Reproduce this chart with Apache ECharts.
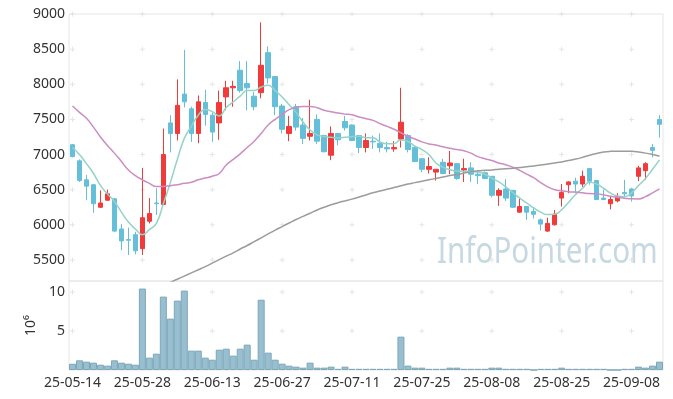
<!DOCTYPE html>
<html>
<head>
<meta charset="utf-8">
<script src="https://cdn.jsdelivr.net/npm/echarts@6/dist/echarts.min.js"></script>
<style>
  html, body { margin: 0; padding: 0; background: #fff; }
  #chart { width: 673px; height: 399px; }
</style>
</head>
<body>
<div id="chart"></div>
<script>
const dates = [
  '25-05-14','25-05-15','25-05-16','25-05-19','25-05-20','25-05-21','25-05-22','25-05-23','25-05-26','25-05-27',
  '25-05-28','25-05-29','25-05-30','25-06-02','25-06-04','25-06-05','25-06-09','25-06-10','25-06-11','25-06-12',
  '25-06-13','25-06-16','25-06-17','25-06-18','25-06-19','25-06-20','25-06-23','25-06-24','25-06-25','25-06-26',
  '25-06-27','25-06-30','25-07-01','25-07-02','25-07-03','25-07-04','25-07-07','25-07-08','25-07-09','25-07-10',
  '25-07-11','25-07-14','25-07-15','25-07-16','25-07-17','25-07-18','25-07-21','25-07-22','25-07-23','25-07-24',
  '25-07-25','25-07-28','25-07-29','25-07-30','25-07-31','25-08-01','25-08-04','25-08-05','25-08-06','25-08-07',
  '25-08-08','25-08-11','25-08-12','25-08-13','25-08-14','25-08-18','25-08-19','25-08-20','25-08-21','25-08-22',
  '25-08-25','25-08-26','25-08-27','25-08-28','25-08-29','25-09-01','25-09-02','25-09-03','25-09-04','25-09-05',
  '25-09-08','25-09-09','25-09-10','25-09-11','25-09-12'
];

const opens = [
  7140, 6910, 6640, 6570, 6250, 6350, 6370, 5940, 5790, 5860,
  5660, 6050, 6310, 6290, 7450, 7300, 7860, 7650, 7300, 7740,
  7560, 7450, 7820, 7950, 8200, 8010, 7830, 7880, 8450, 8110,
  7690, 7300, 7680, 7420, 7260, 7500, 7270, 6990, 7300, 7470,
  7420, 7270, 7100, 7190, 7160, 7100, 7080, 7220, 7270, 7100,
  6940, 6790, 6750, 6890, 6840, 6870, 6780, 6810, 6720, 6740,
  6690, 6420, 6510, 6490, 6180, 6260, 6190, 6070, 5910, 6000,
  6380, 6570, 6620, 6580, 6800, 6630, 6380, 6300, 6340, 6460,
  6510, 6690, 6770, 7100, 7500
];
const closes = [
  6970, 6630, 6550, 6300, 6310, 6440, 5910, 5770, 5780, 5630,
  6100, 6160, 6300, 7000, 7300, 7700, 7750, 7300, 7750, 7570,
  7320, 7740, 7950, 7970, 7910, 7950, 7680, 8270, 8090, 7680,
  7360, 7400, 7390, 7230, 7300, 7190, 7040, 7300, 7210, 7380,
  7200, 7100, 7200, 7180, 7100, 7080, 7100, 7460, 7070, 6900,
  6790, 6830, 6790, 6730, 6880, 6660, 6800, 6720, 6700, 6660,
  6420, 6490, 6380, 6250, 6260, 6180, 6150, 6010, 6020, 6150,
  6460, 6610, 6580, 6690, 6620, 6360, 6360, 6360, 6400, 6440,
  6410, 6810, 6870, 7060, 7430
];
const lows = [
  6960, 6610, 6350, 6170, 6240, 6340, 5900, 5640, 5570, 5580,
  5570, 6020, 6140, 6280, 7030, 7200, 7670, 7180, 7160, 7410,
  7180, 7210, 7630, 7680, 7880, 7630, 7630, 7800, 8010, 7560,
  7300, 7190, 7340, 7150, 7200, 7150, 7030, 6920, 7130, 7340,
  7190, 7020, 7030, 7080, 7030, 7030, 7040, 7100, 7030, 6890,
  6750, 6730, 6630, 6720, 6720, 6640, 6610, 6610, 6580, 6650,
  6390, 6270, 6340, 6240, 6170, 6070, 6090, 5920, 5900, 5990,
  6260, 6450, 6450, 6540, 6570, 6350, 6350, 6220, 6320, 6400,
  6330, 6620, 6640, 6960, 7240
];
const highs = [
  7150, 6930, 6710, 6580, 6490, 6500, 6380, 6010, 5960, 5900,
  6810, 6380, 6520, 7370, 7560, 8070, 8490, 7680, 7840, 7920,
  7600, 7910, 8050, 8050, 8330, 8330, 7890, 8880, 8540, 8110,
  7720, 7550, 7720, 7520, 7780, 7570, 7280, 7400, 7300, 7550,
  7430, 7280, 7300, 7270, 7300, 7180, 7190, 7950, 7290, 7120,
  6950, 6960, 6790, 6940, 7050, 6880, 6940, 6890, 6780, 6760,
  6690, 6520, 6650, 6490, 6370, 6260, 6240, 6090, 6100, 6210,
  6580, 6620, 6670, 6770, 6800, 6640, 6500, 6410, 6450, 6640,
  6520, 6840, 6890, 7150, 7560
];

// moving averages as drawn (short, medium, long)
const ma5 = [
  7100, 7000, 6870, 6730, 6560, 6440, 6330, 6180, 6040, 5940,
  5860, 5930, 6020, 6300, 6600, 6930, 7230, 7400, 7560, 7640,
  7610, 7550, 7670, 7750, 7830, 7910, 7910, 7960, 7986, 7910,
  7820, 7710, 7600, 7460, 7350, 7280, 7255, 7245, 7240, 7245,
  7255, 7260, 7240, 7238, 7180, 7153, 7155, 7205, 7185, 7120,
  7070, 7000, 6880, 6820, 6785, 6765, 6760, 6755, 6750, 6720,
  6665, 6610, 6540, 6460, 6380, 6310, 6240, 6180, 6145, 6150,
  6215, 6320, 6430, 6520, 6605, 6580, 6520, 6450, 6410, 6400,
  6455, 6560, 6660, 6790, 6924
];
const ma20 = [
  7690, 7600, 7515, 7390, 7250, 7130, 7020, 6900, 6780, 6700,
  6640, 6590, 6545, 6545, 6557, 6570, 6590, 6605, 6640, 6665,
  6690, 6730, 6850, 6930, 7010, 7100, 7190, 7300, 7420, 7500,
  7570, 7640, 7675, 7685, 7685, 7667, 7630, 7610, 7590, 7575,
  7565, 7535, 7510, 7486, 7440, 7400, 7360, 7310, 7260, 7220,
  7180, 7150, 7135, 7110, 7090, 7070, 7055, 7020, 6970, 6940,
  6915, 6880, 6855, 6820, 6775, 6720, 6670, 6600, 6540, 6500,
  6485, 6470, 6465, 6455, 6445, 6440, 6425, 6405, 6390, 6378,
  6370, 6368, 6400, 6455, 6510
];
const ma60 = [
  null, null, null, null, null, null, null, null, null, null,
  null, null, null, 5130, 5180, 5225, 5270, 5315, 5360, 5405,
  5455, 5505, 5555, 5600, 5655, 5705, 5760, 5815, 5870, 5925,
  5975, 6025, 6075, 6120, 6165, 6210, 6250, 6285, 6315, 6340,
  6365, 6395, 6425, 6455, 6480, 6505, 6530, 6555, 6580, 6600,
  6620, 6640, 6660, 6680, 6700, 6715, 6735, 6755, 6768, 6775,
  6781, 6790, 6798, 6805, 6815, 6825, 6838, 6850, 6865, 6880,
  6895, 6915, 6935, 6960, 6990, 7015, 7035, 7045, 7048, 7048,
  7045, 7035, 7020, 7000, 6976
];

// volume in millions of shares
const volumes = [
  0.80, 1.24, 1.07, 0.94, 0.68, 0.56, 1.24, 0.94, 0.81, 0.68,
  10.43, 1.58, 2.09, 9.40, 6.58, 8.89, 10.17, 2.48, 2.48, 1.58,
  1.32, 2.60, 2.73, 1.84, 2.73, 3.25, 1.32, 9.00, 2.22, 1.32,
  0.81, 0.56, 0.43, 0.30, 0.94, 0.30, 0.30, 0.43, 0.15, 0.43,
  0.15, 0.15, 0.15, 0.15, 0.15, 0.15, 0.15, 4.27, 0.56, 0.30,
  0.30, 0.15, 0.15, 0.15, 0.30, 0.30, 0.15, 0.15, 0.15, 0.15,
  0.30, 0.30, 0.15, 0.15, 0.15, 0.15, 0, 0.15, 0.15, 0.15,
  0.30, 0.15, 0.15, 0.15, 0.15, 0.15, 0.15, 0, 0, 0.15,
  0.15, 0.43, 0.30, 0.56, 1.07
];

const priceTicks = [5500, 6000, 6500, 7000, 7500, 8000, 8500, 9000];
const volumeTicks = [5, 10];

const chart = echarts.init(document.getElementById('chart'));

const candleData = opens.map((o, i) => [o, closes[i], lows[i], highs[i]]);

// faint "+" marks where label columns meet tick rows
const labelCols = dates.filter((d, i) => i % 10 === 0);
const crossMain = [];
const crossVol = [];
labelCols.forEach(d => {
  priceTicks.forEach(v => crossMain.push([d, v]));
  volumeTicks.forEach(v => crossVol.push([d, v]));
});
const plusPath = 'path://M2,0H3V5H2ZM0,2H5V3H0Z';

const labelFont = { fontFamily: 'Noto Sans', fontSize: 14, color: '#333' };

const option = {
  animation: false,
  graphic: [{
    type: 'text',
    left: 437,
    top: 234,
    z: 0,
    scaleX: 0.8,
    style: {
      text: 'InfoPointer.com',
      fontFamily: 'Noto Sans',
      fontSize: 37,
      fill: '#c6d9e3'
    }
  }],
  grid: [
    { left: 69, right: 10, top: 14, height: 267, show: true, borderColor: '#e6e6e6', borderWidth: 1 },
    { left: 69, right: 10, top: 281, height: 89, show: true, borderColor: '#e6e6e6', borderWidth: 1 }
  ],
  xAxis: [
    {
      type: 'category', data: dates, gridIndex: 0, boundaryGap: true,
      axisLine: { show: false }, axisTick: { show: false }, axisLabel: { show: false }
    },
    {
      type: 'category', data: dates, gridIndex: 1, boundaryGap: true,
      axisLine: { show: false }, axisTick: { show: false },
      axisLabel: Object.assign({ interval: 9, margin: 6 }, labelFont)
    }
  ],
  yAxis: [
    {
      type: 'value', gridIndex: 0, min: 5200, max: 9000,
      axisLine: { show: false }, axisTick: { show: false }, splitLine: { show: false },
      axisLabel: Object.assign({ customValues: priceTicks, margin: 4, formatter: v => String(v) }, labelFont)
    },
    {
      type: 'value', gridIndex: 1, min: 0, max: 11.4,
      axisLine: { show: false }, axisTick: { show: false }, splitLine: { show: false },
      axisLabel: Object.assign({ customValues: volumeTicks, margin: 4, formatter: v => String(v) }, labelFont),
      name: '10⁶', nameLocation: 'middle', nameRotate: 90, nameGap: 30,
      nameTextStyle: labelFont
    }
  ],
  series: [
    {
      type: 'scatter', xAxisIndex: 0, yAxisIndex: 0, data: crossMain,
      symbol: plusPath, symbolSize: 5, silent: true, z: 1,
      itemStyle: { color: '#dedede' }
    },
    {
      type: 'scatter', xAxisIndex: 1, yAxisIndex: 1, data: crossVol,
      symbol: plusPath, symbolSize: 5, silent: true, z: 1,
      itemStyle: { color: '#dedede' }
    },
    {
      name: 'price', type: 'candlestick', xAxisIndex: 0, yAxisIndex: 0,
      data: candleData, barWidth: 5,
      itemStyle: {
        color: '#f03b3b', color0: '#66bfd9',
        borderColor: '#f03b3b', borderColor0: '#66bfd9', borderWidth: 1
      }
    },
    {
      name: 'MA5', type: 'line', data: ma5, xAxisIndex: 0, yAxisIndex: 0,
      symbol: 'none', smooth: true, lineStyle: { color: '#94d3c6', width: 1.5 }, z: 3
    },
    {
      name: 'MA20', type: 'line', data: ma20, xAxisIndex: 0, yAxisIndex: 0,
      symbol: 'none', smooth: true, lineStyle: { color: '#cc8cc4', width: 1.5 }, z: 3
    },
    {
      name: 'MA60', type: 'line', data: ma60, xAxisIndex: 0, yAxisIndex: 0,
      symbol: 'none', smooth: true, lineStyle: { color: '#9c9c9c', width: 1.5 }, z: 3
    },
    {
      name: 'volume', type: 'bar', data: volumes, xAxisIndex: 1, yAxisIndex: 1,
      barWidth: 7,
      itemStyle: { color: '#98bfcf', borderColor: '#7da7b9', borderWidth: 1 }
    }
  ]
};

chart.setOption(option);
</script>
</body>
</html>
